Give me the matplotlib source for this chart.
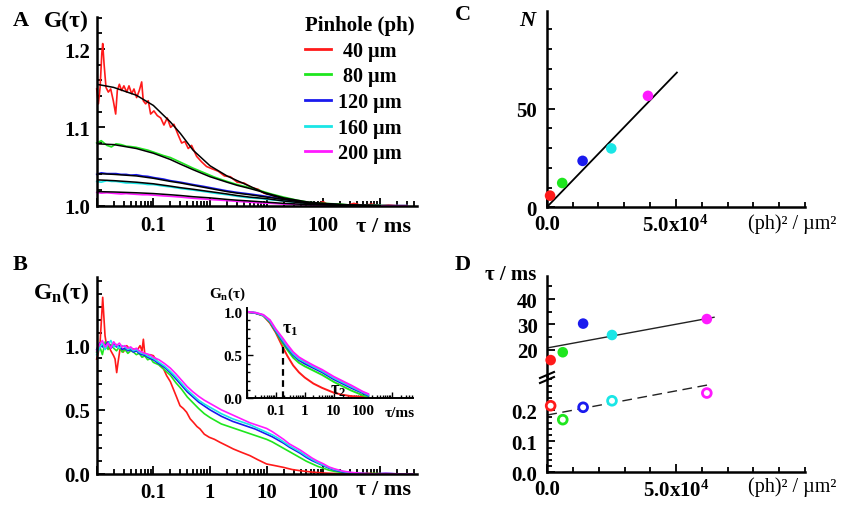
import matplotlib
matplotlib.use("Agg")
import matplotlib.pyplot as plt
import numpy as np
from matplotlib.ticker import FixedLocator, NullFormatter, LogLocator, MultipleLocator
from matplotlib.lines import Line2D

plt.rcParams['font.family'] = ['Liberation Serif', 'DejaVu Serif']
plt.rcParams['font.weight'] = 'bold'
plt.rcParams['font.size'] = 14
plt.rcParams['mathtext.fontset'] = 'custom'
plt.rcParams['mathtext.rm'] = 'Liberation Serif:bold'
plt.rcParams['mathtext.it'] = 'Liberation Serif:italic:bold'
plt.rcParams['mathtext.bf'] = 'Liberation Serif:bold'

# ---- data (log10 of tau in ms where noted) ----
colors = ['#ff1a1a', '#1ee61e', '#1a1aee', '#1ae6e6', '#ff1aff']
pinholes = ['40 µm', '80 µm', '120 µm', '160 µm', '200 µm']

# panel A, raw curves
lt_red_A = [-2.0, -1.97, -1.94, -1.91, -1.894, -1.87, -1.836, -1.795, -1.753, -1.707,
            -1.665, -1.636, -1.60, -1.56, -1.52, -1.47, -1.43, -1.383, -1.342, -1.295,
            -1.248, -1.206, -1.178, -1.136, -1.09, -1.048, -0.99, -0.93, -0.87, -0.813,
            -0.755, -0.695, -0.637, -0.56, -0.50, -0.443, -0.384, -0.325, -0.236, -0.148,
            -0.06, 0.04, 0.146, 0.255, 0.36, 0.48, 0.6, 0.74, 0.85, 0.95,
            1.08, 1.2, 1.34, 1.48, 1.65, 1.85, 2.0, 2.11, 2.26, 2.4,
            2.54, 2.7, 2.85, 3.0, 3.15, 3.3, 3.48]
red_A = [1.149, 1.130, 1.151, 1.194, 1.207, 1.181, 1.151, 1.145, 1.149, 1.134,
         1.117, 1.147, 1.155, 1.147, 1.153, 1.145, 1.153, 1.143, 1.149, 1.138,
         1.147, 1.158, 1.134, 1.130, 1.134, 1.117, 1.121, 1.115, 1.112, 1.103,
         1.112, 1.100, 1.104, 1.090, 1.080, 1.082, 1.073, 1.077, 1.063, 1.056,
         1.050, 1.047, 1.044, 1.038, 1.037, 1.030, 1.029, 1.023, 1.021, 1.016,
         1.014, 1.009, 1.009, 1.005, 1.004, 1.002, 1.005, 1.0, 1.002, 1.0,
         1.003, 1.0, 1.002, 1.0, 1.001, 1.0, 1.0]

lt_A = [-2.0, -1.92, -1.82, -1.74, -1.66, -1.57, -1.48, -1.4, -1.3, -1.19,
        -1.1, -1.0, -0.82, -0.7, -0.52, -0.3, -0.1, 0.08, 0.3, 0.48,
        0.7, 0.9, 1.08, 1.3, 1.54, 1.78, 2.0, 2.3, 2.6, 2.9, 3.18, 3.48]
green_A = [1.080, 1.083, 1.077, 1.075, 1.079, 1.078, 1.076, 1.0755, 1.0745, 1.0725,
           1.071, 1.0685, 1.064, 1.0615, 1.0555, 1.048, 1.042, 1.0365, 1.031, 1.027,
           1.023, 1.019, 1.015, 1.011, 1.007, 1.004, 1.003, 1.002, 1.0, 1.001, 1.0, 1.0]
blue_A = [1.040, 1.042, 1.041, 1.041, 1.041, 1.040, 1.040, 1.039, 1.0395, 1.038,
          1.0375, 1.036, 1.034, 1.032, 1.030, 1.027, 1.0245, 1.022, 1.019, 1.017,
          1.015, 1.013, 1.011, 1.008, 1.005, 1.003, 1.002, 1.001, 1.0, 1.0, 1.0, 1.0]
cyan_A = [1.031, 1.030, 1.032, 1.031, 1.031, 1.030, 1.029, 1.029, 1.0285, 1.028,
          1.027, 1.027, 1.025, 1.024, 1.022, 1.020, 1.018, 1.016, 1.014, 1.012,
          1.010, 1.009, 1.0075, 1.006, 1.004, 1.003, 1.002, 1.001, 1.0, 1.0, 1.0, 1.0]
magenta_A = [1.017, 1.016, 1.0165, 1.016, 1.0155, 1.015, 1.0155, 1.015, 1.0145, 1.014,
             1.014, 1.0135, 1.0125, 1.012, 1.011, 1.0095, 1.0085, 1.0075, 1.0065, 1.0055,
             1.0045, 1.0035, 1.003, 1.002, 1.0015, 1.001, 1.0005, 1.0, 1.0, 1.0, 1.0, 1.0]

# panel A, fits
lt_fit = [-2, -1.7, -1.3, -1, -0.7, -0.52, -0.3, 0, 0.3, 0.48, 0.7, 1, 1.3, 1.7, 2, 2.48, 3]
fit_red = [1.155, 1.151, 1.141, 1.128, 1.107, 1.092, 1.071, 1.051, 1.038, 1.032, 1.025, 1.015, 1.009, 1.004, 1.002, 1.0005, 1.0]
fit_green = [1.079, 1.078, 1.073, 1.067, 1.059, 1.053, 1.046, 1.037, 1.030, 1.026, 1.022, 1.016, 1.010, 1.005, 1.003, 1.001, 1.0]
fit_blue = [1.041, 1.040, 1.038, 1.035, 1.031, 1.029, 1.026, 1.022, 1.018, 1.016, 1.014, 1.011, 1.008, 1.004, 1.002, 1.0005, 1.0]
fit_cyan = [1.033, 1.032, 1.030, 1.028, 1.025, 1.023, 1.021, 1.018, 1.015, 1.013, 1.011, 1.009, 1.006, 1.003, 1.002, 1.0005, 1.0]
fit_magenta = [1.018, 1.0175, 1.0165, 1.0155, 1.014, 1.013, 1.0115, 1.010, 1.008, 1.007, 1.006, 1.0045, 1.003, 1.0015, 1.001, 1.0, 1.0]

# panel B, normalised curves
lt_red_B = [-2.0, -1.97, -1.94, -1.91, -1.894, -1.87, -1.853, -1.82, -1.794, -1.75,
            -1.70, -1.676, -1.647, -1.62, -1.588, -1.53, -1.47, -1.41, -1.353, -1.29,
            -1.235, -1.2, -1.176, -1.15, -1.118, -1.06, -1.0, -0.94, -0.882, -0.82,
            -0.765, -0.70, -0.647, -0.59, -0.529, -0.47, -0.412, -0.35, -0.294, -0.23,
            -0.176, -0.1, -0.012, 0.08, 0.176, 0.3, 0.412, 0.55, 0.706, 0.85,
            1.0, 1.15, 1.294, 1.45, 1.588, 1.8, 2.0, 2.25, 2.47, 2.8, 3.1, 3.59]
red_B = [0.896, 0.95, 1.026, 1.25, 1.377, 1.20, 1.078, 0.98, 1.0, 0.96,
         0.92, 0.896, 0.79, 0.88, 0.974, 0.95, 1.0, 0.97, 0.974, 0.96,
         1.0, 0.96, 1.05, 0.93, 0.922, 0.93, 0.922, 0.88, 0.844, 0.82,
         0.766, 0.72, 0.662, 0.60, 0.532, 0.51, 0.481, 0.43, 0.403, 0.37,
         0.351, 0.31, 0.286, 0.27, 0.247, 0.22, 0.195, 0.17, 0.143, 0.11,
         0.078, 0.065, 0.052, 0.035, 0.026, 0.015, 0.008, 0.003, 0.0, 0.005, 0.0, 0.0]

lt_B = [-2.0, -1.95, -1.9, -1.85, -1.8, -1.75, -1.7, -1.65, -1.6, -1.55,
        -1.5, -1.45, -1.4, -1.35, -1.3, -1.25, -1.2, -1.15, -1.1, -1.05,
        -1.0, -0.9, -0.8, -0.7, -0.6, -0.5, -0.4, -0.3, -0.2, -0.1,
        0.0, 0.1, 0.2, 0.3, 0.4, 0.5, 0.6, 0.7, 0.8, 0.9,
        1.0, 1.1, 1.2, 1.3, 1.4, 1.5, 1.6, 1.7, 1.8, 1.9,
        2.0, 2.1, 2.2, 2.35, 2.5, 2.7, 2.9, 3.1, 3.35, 3.59]
green_B = [0.95, 1.00, 0.93, 1.03, 0.97, 1.01, 0.98, 0.96, 0.99, 0.95,
           0.97, 0.94, 0.96, 0.95, 0.93, 0.94, 0.91, 0.92, 0.89, 0.90,
           0.87, 0.85, 0.81, 0.77, 0.71, 0.66, 0.60, 0.555, 0.51, 0.47,
           0.44, 0.415, 0.39, 0.375, 0.36, 0.345, 0.33, 0.315, 0.30, 0.285,
           0.27, 0.25, 0.225, 0.20, 0.175, 0.15, 0.125, 0.10, 0.08, 0.06,
           0.045, 0.03, 0.02, 0.01, 0.005, 0.0, 0.005, 0.0, 0.0, 0.0]
blue_B = [0.97, 1.02, 0.99, 1.00, 1.03, 0.98, 1.01, 0.99, 1.00, 0.97,
          0.98, 0.96, 0.97, 0.95, 0.96, 0.94, 0.93, 0.925, 0.91, 0.90,
          0.89, 0.86, 0.83, 0.79, 0.74, 0.69, 0.64, 0.60, 0.56, 0.53,
          0.50, 0.475, 0.45, 0.43, 0.41, 0.395, 0.38, 0.365, 0.35, 0.33,
          0.31, 0.29, 0.265, 0.24, 0.21, 0.185, 0.16, 0.13, 0.105, 0.085,
          0.065, 0.045, 0.03, 0.015, 0.008, 0.003, 0.0, 0.005, 0.0, 0.0]
cyan_B = [0.93, 0.98, 1.02, 0.97, 1.01, 1.04, 0.99, 1.01, 0.98, 1.00,
          0.99, 0.97, 0.98, 0.96, 0.97, 0.95, 0.94, 0.935, 0.92, 0.91,
          0.90, 0.87, 0.84, 0.80, 0.755, 0.705, 0.655, 0.615, 0.575, 0.545,
          0.52, 0.495, 0.47, 0.45, 0.43, 0.415, 0.40, 0.385, 0.365, 0.345,
          0.325, 0.305, 0.28, 0.25, 0.22, 0.195, 0.17, 0.14, 0.115, 0.09,
          0.07, 0.05, 0.035, 0.02, 0.01, 0.004, 0.0, 0.004, 0.0, 0.0]
magenta_B = [0.96, 1.01, 1.04, 0.99, 1.02, 0.98, 1.03, 1.00, 1.02, 0.99,
             1.00, 0.98, 0.99, 0.97, 0.98, 0.96, 0.95, 0.94, 0.935, 0.925,
             0.91, 0.89, 0.86, 0.825, 0.78, 0.73, 0.68, 0.64, 0.605, 0.575,
             0.55, 0.525, 0.50, 0.48, 0.46, 0.44, 0.42, 0.40, 0.385, 0.37,
             0.355, 0.33, 0.30, 0.27, 0.235, 0.21, 0.185, 0.155, 0.125, 0.10,
             0.08, 0.055, 0.04, 0.022, 0.012, 0.005, 0.0, 0.005, 0.0, 0.0]

# inset of panel B, fitted normalised curves
lt_in = [-2.0, -1.7, -1.43, -1.2, -1.0, -0.77, -0.6, -0.4, -0.2, 0.0, 0.3, 0.6, 1.0, 1.3, 1.6, 2.0, 2.19]
red_in = [1.0, 0.985, 0.955, 0.87, 0.76, 0.60, 0.49, 0.38, 0.30, 0.24, 0.17, 0.12, 0.065, 0.04, 0.025, 0.015, 0.01]
green_in = [1.0, 0.985, 0.955, 0.88, 0.77, 0.64, 0.56, 0.47, 0.41, 0.37, 0.32, 0.27, 0.19, 0.14, 0.09, 0.035, 0.015]
blue_in = [1.0, 0.985, 0.96, 0.89, 0.78, 0.665, 0.585, 0.50, 0.44, 0.40, 0.35, 0.30, 0.22, 0.17, 0.12, 0.06, 0.03]
cyan_in = [1.0, 0.99, 0.96, 0.895, 0.79, 0.68, 0.60, 0.515, 0.455, 0.42, 0.365, 0.315, 0.235, 0.185, 0.135, 0.07, 0.04]
magenta_in = [1.0, 0.99, 0.965, 0.905, 0.80, 0.70, 0.62, 0.535, 0.475, 0.435, 0.38, 0.33, 0.25, 0.20, 0.15, 0.077, 0.05]
tau1_ms = 0.174
tau1_level = 0.6

# panel C
ph2_C = [1300, 6000, 13900, 25000, 39200]
N_C = [5.9, 12.3, 23.5, 29.8, 56.4]
fitC_x = [0, 50400]
fitC_y = [0, 68.2]

# panel D
ph2_D = [1300, 6000, 13900, 25100, 61900]
tau_slow = [15.9, 19.0, 30.3, 25.8, 32.1]
tau_fast = [0.215, 0.170, 0.210, 0.231, 0.256]
fitD_slow_x = [0, 64700]
fitD_slow_y = [20.7, 32.8]
fitD_fast_x = [0, 64100]
fitD_fast_y = [0.185, 0.285]

# ---- layout helpers (pixels) ----
W, H = 846, 510


def px(x, y):
    return x / W, 1 - y / H


def box(l, t, r, b):
    return [l / W, 1 - b / H, (r - l) / W, (b - t) / H]


def style(ax, lw=1.8, tw=1.3, ml=6, nl=3.5):
    for s in ['top', 'right']:
        ax.spines[s].set_visible(False)
    for s in ['left', 'bottom']:
        ax.spines[s].set_linewidth(lw)
    ax.tick_params(which='both', direction='in', width=tw)
    ax.tick_params(which='major', length=ml)
    ax.tick_params(which='minor', length=nl)
    ax.set_facecolor('none')


def log_x(ax, right, labels_size=15, pad=8):
    ax.set_xscale('log')
    ax.set_xlim(1e-2, 10 ** right)
    ax.set_xticks([0.01, 0.1, 1, 10, 100, 1000], ['', '0.1', '1', '10', '100', ''])
    ax.xaxis.set_minor_locator(LogLocator(base=10, subs=np.arange(2, 10), numticks=30))
    ax.xaxis.set_minor_formatter(NullFormatter())
    ax.tick_params(axis='x', which='major', labelsize=labels_size, pad=pad)


fig = plt.figure(figsize=(8.46, 5.10), dpi=100)

# ---- A ----
axA = fig.add_axes(box(96.7, 18.3, 416.7, 206.7))
style(axA)
log_x(axA, 3.65, pad=7)
axA.set_ylim(1.0, 1.2405)
axA.set_yticks([1.0, 1.1, 1.2], ['1.0', '1.1', '1.2'])
axA.yaxis.set_minor_locator(MultipleLocator(0.02))
axA.tick_params(axis='y', labelsize=15, pad=5)

raw_A = [(lt_red_A, red_A), (lt_A, green_A), (lt_A, blue_A), (lt_A, cyan_A), (lt_A, magenta_A)]
fits_A = [fit_red, fit_green, fit_blue, fit_cyan, fit_magenta]
handles = []
for (lt, g), c in zip(raw_A, colors):
    h, = axA.plot(10 ** np.array(lt), g, color=c, lw=1.2, clip_on=False)
    handles.append(h)
for f in fits_A:
    axA.plot(10 ** np.array(lt_fit), f, color='black', lw=1.1)

leg = axA.legend(handles, [' ' + pinholes[0], ' ' + pinholes[1]] + pinholes[2:],
                 title='Pinhole (ph)', loc='upper left',
                 bbox_to_anchor=px(305, 16), bbox_transform=fig.transFigure,
                 frameon=False, fontsize=14.5, title_fontsize=15,
                 handlelength=1.3, handletextpad=0.35, labelspacing=0.28,
                 borderpad=0, borderaxespad=0, alignment='left')
for ln in leg.get_lines():
    ln.set_linewidth(2.0)

fig.text(*px(20.5, 21.5), 'A', ha='center', va='center', fontsize=16)
fig.text(*px(66.7, 21.7), 'G(τ)', ha='center', va='center', fontsize=17)
fig.text(*px(383, 226.7), 'τ / ms', ha='center', va='center', fontsize=16)

# ---- B ----
axB = fig.add_axes(box(96.7, 278, 416.7, 475))
style(axB)
log_x(axB, 3.65, pad=6)
axB.set_ylim(0, 1.535)
axB.set_yticks([0.0, 0.5, 1.0], ['0.0', '0.5', '1.0'])
axB.yaxis.set_minor_locator(MultipleLocator(0.1))
axB.tick_params(axis='y', labelsize=15, pad=5)
raw_B = [(lt_red_B, red_B), (lt_B, green_B), (lt_B, blue_B), (lt_B, cyan_B), (lt_B, magenta_B)]
for (lt, g), c in zip(raw_B, colors):
    axB.plot(10 ** np.array(lt), g, color=c, lw=1.2, clip_on=False)

fig.text(*px(20.5, 264.5), 'B', ha='center', va='center', fontsize=16)
fig.text(*px(61, 293), r'G$_{\rm n}$(τ)', ha='center', va='center', fontsize=17)
fig.text(*px(383, 490), 'τ / ms', ha='center', va='center', fontsize=16)

# ---- inset ----
axI = fig.add_axes(box(246.7, 309.3, 413.3, 399.3))
style(axI, lw=1.4, tw=1.0, ml=4, nl=2.5)
log_x(axI, 3.74, labels_size=11, pad=4)
axI.set_ylim(0, 1.04)
axI.set_yticks([0.0, 0.5, 1.0], ['0.0', '0.5', '1.0'])
axI.yaxis.set_minor_locator(MultipleLocator(0.1))
axI.tick_params(axis='y', labelsize=11, pad=3)
for g, c in zip([red_in, green_in, blue_in, cyan_in, magenta_in], colors):
    axI.plot(10 ** np.array(lt_in), g, color=c, lw=1.4)
axI.plot([tau1_ms, tau1_ms], [0, tau1_level], color='black', lw=1.6, ls=(0, (3, 2)))
fig.text(*px(227.5, 294), r'G$_{\rm n}$(τ)', ha='center', va='center', fontsize=11)
fig.text(*px(400, 413.3), 'τ/ms', ha='center', va='center', fontsize=11)
fig.text(*px(290, 330), r'τ$_{\rm 1}$', ha='center', va='center', fontsize=13)
fig.text(*px(338, 391), r'τ$_{\rm 2}$', ha='center', va='center', fontsize=13)

# ---- C ----
axC = fig.add_axes(box(546.7, 11.7, 805, 208.3))
style(axC)
axC.set_xlim(0, 1e5)
axC.set_ylim(0, 99.5)
axC.set_xticks([0, 50000], ['0.0', r'5.0x10$^{4}$'])
axC.xaxis.set_minor_locator(MultipleLocator(10000))
axC.set_yticks([0, 50], ['0', '50'])
axC.yaxis.set_minor_locator(MultipleLocator(10))
axC.tick_params(axis='x', labelsize=15, pad=5)
axC.tick_params(axis='y', labelsize=15, pad=7)
axC.plot(fitC_x, fitC_y, color='black', lw=1.3)
axC.scatter(ph2_C, N_C, s=58, c=colors, zorder=3, clip_on=False, linewidths=0)
fig.text(*px(463, 15.5), 'C', ha='center', va='center', fontsize=16)
fig.text(*px(527.5, 20.5), 'N', ha='center', va='center', fontsize=16, style='italic')
fig.text(*px(792.5, 224), '(ph)² / µm²', ha='center', va='center', fontsize=14.5, fontweight='normal')

# ---- D ----
axDu = fig.add_axes(box(547.3, 276.7, 805, 376.7))
axDl = fig.add_axes(box(547.3, 376.7, 805, 473.3))
style(axDu)
style(axDl)
axDu.spines['bottom'].set_visible(False)
axDu.set_xlim(0, 1e5)
axDu.set_xticks([])
axDu.xaxis.set_minor_locator(FixedLocator([]))
axDu.set_ylim(9.74, 49.2)
axDu.set_yticks([20, 30, 40], ['20', '30', '40'])
axDu.yaxis.set_minor_locator(FixedLocator([15, 25, 35, 45]))
axDu.tick_params(axis='y', labelsize=15, pad=7)
axDl.set_xlim(0, 1e5)
axDl.set_ylim(0, 0.312)
axDl.set_xticks([0, 50000], ['0.0', r'5.0x10$^{4}$'])
axDl.xaxis.set_minor_locator(MultipleLocator(10000))
axDl.set_yticks([0.0, 0.1, 0.2], ['0.0', '0.1', '0.2'])
axDl.yaxis.set_minor_locator(MultipleLocator(0.02))
axDl.tick_params(axis='x', labelsize=15, pad=5)
axDl.tick_params(axis='y', labelsize=15, pad=7)

axDu.plot(fitD_slow_x, fitD_slow_y, color='#222222', lw=1.0)
axDu.scatter(ph2_D, tau_slow, s=58, c=colors, zorder=3, clip_on=False, linewidths=0)
axDl.plot(fitD_fast_x, fitD_fast_y, color='#222222', lw=1.0, ls=(0, (7, 4)))
axDl.scatter(ph2_D, tau_fast, s=40, facecolors='white', edgecolors=colors,
             linewidths=2.0, zorder=3, clip_on=False)

# axis break marks
for dy in (0, 5):
    fig.add_artist(Line2D([540 / W, 554 / W], [1 - (379 + dy) / H, 1 - (373 + dy) / H],
                          color='black', lw=1.5))

fig.text(*px(463, 265), 'D', ha='center', va='center', fontsize=16)
fig.text(*px(511, 275), 'τ / ms', ha='center', va='center', fontsize=15)
fig.text(*px(792.5, 487), '(ph)² / µm²', ha='center', va='center', fontsize=14.5, fontweight='normal')

fig.savefig('out.png', dpi=100)
